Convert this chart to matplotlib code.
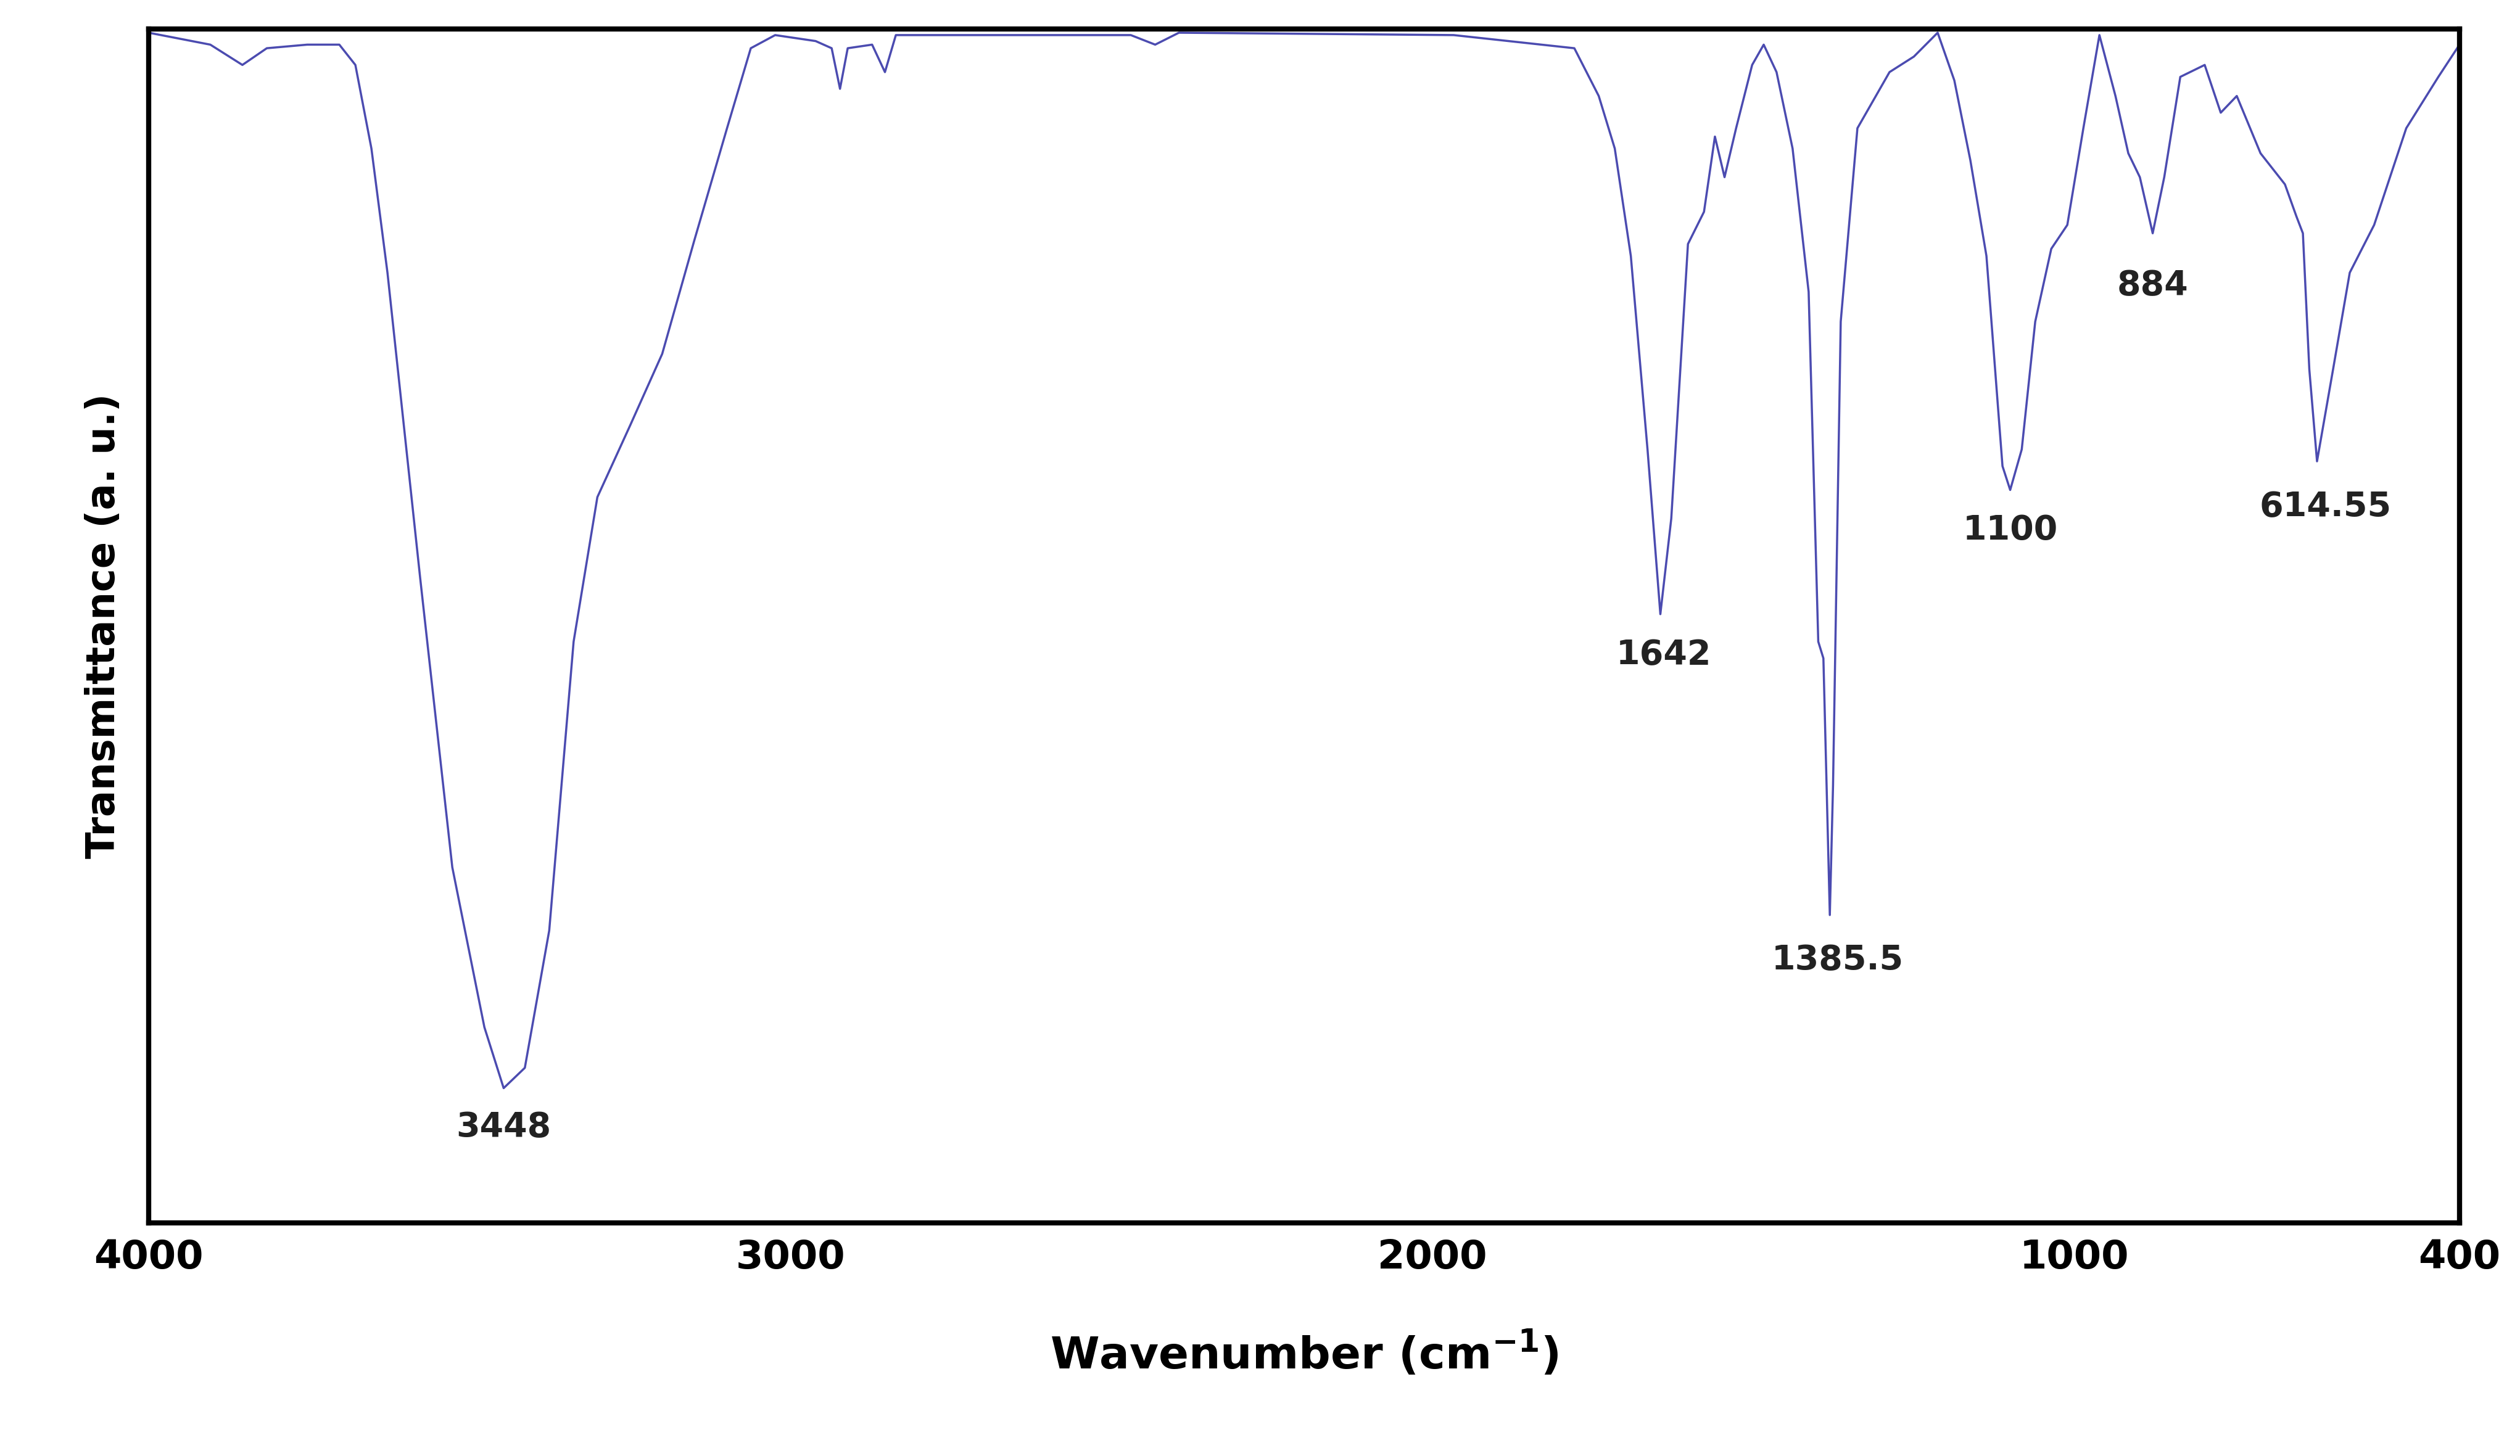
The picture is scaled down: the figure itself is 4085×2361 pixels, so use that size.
import matplotlib
matplotlib.use("Agg")
import matplotlib.pyplot as plt
import numpy as np

# FTIR spectrum (wavenumber cm-1, transmittance a.u.)
wavenumber = [4000, 3904, 3854, 3816, 3753, 3703, 3678, 3653, 3628, 3577, 3527, 3477, 3447,
              3414, 3376, 3338, 3301, 3250, 3200, 3150, 3099, 3062, 3024, 2961, 2936, 2923,
              2911, 2873, 2853, 2836, 2470, 2432, 2395, 1967, 1779, 1741, 1716, 1691, 1665,
              1645, 1628, 1602, 1577, 1560, 1545, 1527, 1502, 1484, 1464, 1439, 1414, 1399,
              1391, 1386, 1381, 1376, 1364, 1338, 1288, 1250, 1213, 1187, 1162, 1137, 1112,
              1100, 1082, 1061, 1036, 1011, 986, 961, 936, 916, 898, 878, 860, 835, 797,
              772, 747, 710, 672, 654, 644, 634, 622, 597, 571, 533, 483, 433, 400]
transmittance = [99.7, 98.7, 97.0, 98.4, 98.7, 98.7, 97.0, 90.0, 79.6, 54.0, 29.8, 16.4, 11.3,
                 13.0, 24.5, 48.7, 60.8, 66.8, 72.8, 82.3, 91.7, 98.4, 99.5, 99.0, 98.4, 95.0,
                 98.4, 98.7, 96.4, 99.5, 99.5, 98.7, 99.7, 99.5, 98.4, 94.4, 90.0, 81.0, 64.8,
                 51.0, 59.0, 82.0, 84.7, 91.0, 87.6, 91.7, 97.0, 98.7, 96.4, 90.0, 78.0, 48.7,
                 47.3, 36.6, 25.8, 36.6, 75.5, 91.7, 96.4, 97.7, 99.7, 95.7, 89.0, 81.0, 63.4,
                 61.4, 64.8, 75.5, 81.6, 83.6, 91.7, 99.5, 94.4, 89.6, 87.6, 82.9, 87.6, 96.0,
                 97.0, 93.0, 94.4, 89.6, 87.0, 84.3, 82.9, 71.5, 63.8, 71.5, 79.6, 83.6, 91.7,
                 96.0, 98.7]

peak_labels = ["3448", "1642", "1385.5", "1100", "884", "614.55"]
peak_x = [3447, 1640, 1369, 1100, 878, 609]
peak_y = [8.0, 47.6, 22.0, 58.0, 78.5, 60.0]

fig = plt.figure(figsize=(40.85, 23.61), dpi=100)
ax = fig.add_axes([0.059, 0.16, 0.917, 0.82])

ax.plot(wavenumber, transmittance, color='#4b4bb0', lw=2.5)

for lab, px, py in zip(peak_labels, peak_x, peak_y):
    ax.text(px, py, lab, ha='center', va='center', fontsize=40, fontweight='bold', color='#222222')

ax.set_xlim(4000, 400)
ax.set_ylim(0, 100)
ax.set_xticks([4000, 3000, 2000, 1000, 400])
ax.set_yticks([])
ax.tick_params(axis='x', labelsize=46, length=0, pad=18)
for t in ax.get_xticklabels():
    t.set_fontweight('bold')
for s in ax.spines.values():
    s.set_linewidth(6)

ax.set_xlabel("Wavenumber (cm$^{\\mathbf{-1}}$)", fontsize=52, fontweight='bold', labelpad=60)
ax.set_ylabel("Transmittance (a. u.)", fontsize=46, fontweight='bold', labelpad=30)

plt.savefig("out.png", dpi=100)
